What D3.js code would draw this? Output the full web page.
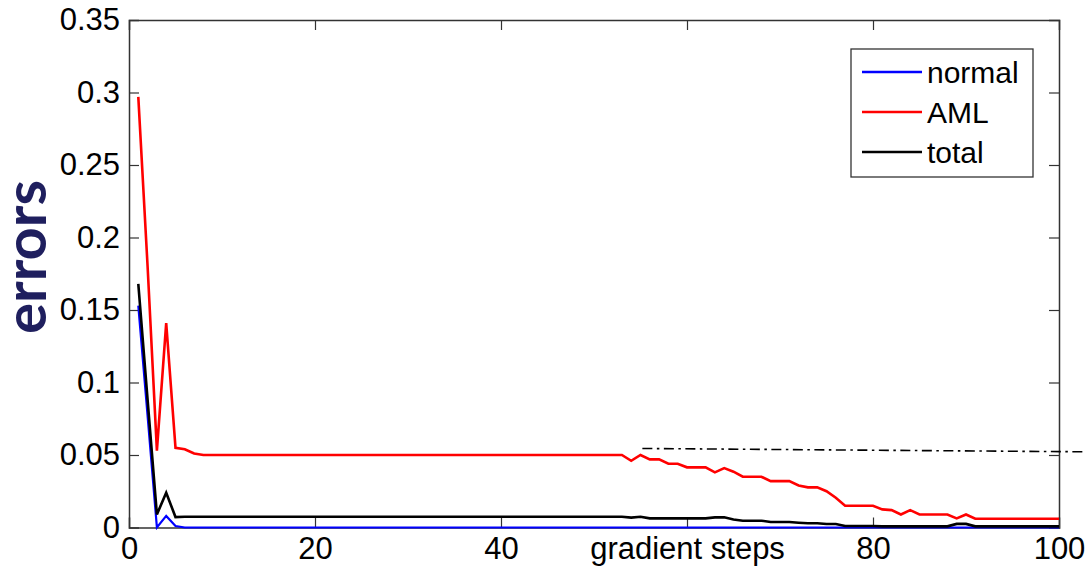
<!DOCTYPE html>
<html>
<head>
<meta charset="utf-8">
<script src="https://cdn.jsdelivr.net/npm/d3@7"></script>
<style>
  body { margin: 0; background: #fff; }
  svg { display: block; }
  .tick text { font-family: "Liberation Sans", Arial, sans-serif; font-size: 31px; fill: #000; }
</style>
</head>
<body>
<div id="chart"></div>
<script>
// x positions are the gradient step numbers 1..100
const steps = [
  1, 2, 3, 4, 5, 6, 7, 8, 9, 10, 11, 12, 13, 14, 15, 16, 17, 18, 19, 20,
  21, 22, 23, 24, 25, 26, 27, 28, 29, 30, 31, 32, 33, 34, 35, 36, 37, 38, 39, 40,
  41, 42, 43, 44, 45, 46, 47, 48, 49, 50, 51, 52, 53, 54, 55, 56, 57, 58, 59, 60,
  61, 62, 63, 64, 65, 66, 67, 68, 69, 70, 71, 72, 73, 74, 75, 76, 77, 78, 79, 80,
  81, 82, 83, 84, 85, 86, 87, 88, 89, 90, 91, 92, 93, 94, 95, 96, 97, 98, 99, 100
];

const normal_err = [
  0.153, 0.077, 0, 0.008, 0.001, 0, 0, 0, 0, 0,
  0, 0, 0, 0, 0, 0, 0, 0, 0, 0,
  0, 0, 0, 0, 0, 0, 0, 0, 0, 0,
  0, 0, 0, 0, 0, 0, 0, 0, 0, 0,
  0, 0, 0, 0, 0, 0, 0, 0, 0, 0,
  0, 0, 0, 0, 0, 0, 0, 0, 0, 0,
  0, 0, 0, 0, 0, 0, 0, 0, 0, 0,
  0, 0, 0, 0, 0, 0, 0, 0, 0, 0,
  0, 0, 0, 0, 0, 0, 0, 0, 0, 0,
  0, 0, 0, 0, 0, 0, 0, 0, 0, 0
];

const aml_err = [
  0.297, 0.18, 0.053, 0.141, 0.055, 0.054, 0.051, 0.05, 0.05, 0.05,
  0.05, 0.05, 0.05, 0.05, 0.05, 0.05, 0.05, 0.05, 0.05, 0.05,
  0.05, 0.05, 0.05, 0.05, 0.05, 0.05, 0.05, 0.05, 0.05, 0.05,
  0.05, 0.05, 0.05, 0.05, 0.05, 0.05, 0.05, 0.05, 0.05, 0.05,
  0.05, 0.05, 0.05, 0.05, 0.05, 0.05, 0.05, 0.05, 0.05, 0.05,
  0.05, 0.05, 0.05, 0.046, 0.05, 0.047, 0.047, 0.044, 0.044, 0.0415,
  0.0415, 0.0415, 0.038, 0.041, 0.0385, 0.035, 0.035, 0.035, 0.032, 0.032,
  0.032, 0.029, 0.0277, 0.0277, 0.025, 0.0205, 0.015, 0.015, 0.015, 0.015,
  0.0125, 0.012, 0.009, 0.012, 0.009, 0.009, 0.009, 0.009, 0.0063, 0.009,
  0.006, 0.006, 0.006, 0.006, 0.006, 0.006, 0.006, 0.006, 0.006, 0.006
];

const total_err = [
  0.168, 0.088, 0.009, 0.024, 0.0072, 0.0074, 0.0074, 0.0074, 0.0074, 0.0074,
  0.0074, 0.0074, 0.0074, 0.0074, 0.0074, 0.0074, 0.0074, 0.0074, 0.0074, 0.0074,
  0.0074, 0.0074, 0.0074, 0.0074, 0.0074, 0.0074, 0.0074, 0.0074, 0.0074, 0.0074,
  0.0074, 0.0074, 0.0074, 0.0074, 0.0074, 0.0074, 0.0074, 0.0074, 0.0074, 0.0074,
  0.0074, 0.0074, 0.0074, 0.0074, 0.0074, 0.0074, 0.0074, 0.0074, 0.0074, 0.0074,
  0.0074, 0.0074, 0.0074, 0.0068, 0.0074, 0.0063, 0.0063, 0.0063, 0.0063, 0.0063,
  0.0063, 0.0063, 0.007, 0.007, 0.0055, 0.0047, 0.0047, 0.0047, 0.0038, 0.0038,
  0.0038, 0.0033, 0.0029, 0.0029, 0.0024, 0.0024, 0.001, 0.001, 0.001, 0.001,
  0.0008, 0.0008, 0.0008, 0.0008, 0.0008, 0.0008, 0.0008, 0.0008, 0.0025, 0.0025,
  0.0008, 0.0008, 0.0008, 0.0008, 0.0008, 0.0008, 0.0008, 0.0008, 0.0008, 0.0008
];

const series_names = ["normal", "AML", "total"];
const series_colors = ["#0000ff", "#ff0000", "#000000"];

const x_ticks = [0, 20, 40, 60, 80, 100];
const x_tick_labels = ["0", "20", "40", "gradient steps", "80", "100"];
const y_ticks = [0, 0.05, 0.1, 0.15, 0.2, 0.25, 0.3, 0.35];
const y_tick_labels = ["0", "0.05", "0.1", "0.15", "0.2", "0.25", "0.3", "0.35"];

// dash-dot reference line (start/end step, start/end error)
const ref_line = [{step: 55.2, value: 0.0545}, {step: 102.9, value: 0.0522}];

const y_label = "errors";

draw_chart('chart');

function draw_chart(target) {
    const W = 1085, H = 570;
    const margin = {top: 20, right: 26, bottom: 42.5, left: 129};
    const width = W - margin.left - margin.right,
          height = H - margin.top - margin.bottom;

    const svg = d3.select('#' + target).append("svg")
        .attr("width", W)
        .attr("height", H);
    const g = svg.append("g").attr("transform", `translate(${margin.left},${margin.top})`);

    const x = d3.scaleLinear().domain([0, 100]).range([0, width]);
    const y = d3.scaleLinear().domain([0, 0.35]).range([height, 0]);

    const axisColor = "#333";
    const tickLen = 10;

    // bottom axis, ticks inward
    const xb = g.append("g")
        .attr("transform", `translate(0,${height})`)
        .call(d3.axisBottom(x).tickValues(x_ticks).tickSize(-tickLen).tickPadding(22)
            .tickFormat((d, i) => x_tick_labels[i]));
    // top axis (ticks only)
    const xt = g.append("g")
        .call(d3.axisTop(x).tickValues(x_ticks).tickSize(-tickLen).tickFormat(""));
    // left axis
    const yl = g.append("g")
        .call(d3.axisLeft(y).tickValues(y_ticks).tickSize(-tickLen).tickPadding(9)
            .tickFormat((d, i) => y_tick_labels[i]));
    // right axis (ticks only)
    const yr = g.append("g")
        .attr("transform", `translate(${width},0)`)
        .call(d3.axisRight(y).tickValues(y_ticks).tickSize(-tickLen).tickFormat(""));

    [xb, xt, yl, yr].forEach(a => {
        a.select(".domain").attr("stroke", axisColor).attr("stroke-width", 1.5);
        a.selectAll(".tick line").attr("stroke", axisColor).attr("stroke-width", 1.2);
    });
    xb.selectAll(".tick text").attr("dy", "0.32em");
    // drop the ticks that sit on the box corners
    [xb, xt].forEach(a => a.selectAll(".tick line").filter(d => d === 0 || d === 100).remove());
    [yl, yr].forEach(a => a.selectAll(".tick line").filter(d => d === 0 || d === 0.35).remove());

    // series lines
    const all = [normal_err, aml_err, total_err];
    const line = d3.line()
        .x(d => x(d.step))
        .y(d => y(d.value));

    all.forEach((vals, k) => {
        const pts = steps.map((s, i) => ({step: s, value: vals[i]}));
        g.append("path")
            .datum(pts)
            .attr("fill", "none")
            .attr("stroke", series_colors[k])
            .attr("stroke-width", k === 0 ? 2.2 : 2.6)
            .attr("stroke-linejoin", "miter")
            .attr("d", line);
    });

    // dash-dot line running off the right edge
    g.append("path")
        .datum(ref_line)
        .attr("fill", "none")
        .attr("stroke", "#000")
        .attr("stroke-width", 1.6)
        .attr("stroke-dasharray", "10,4.5,2.5,4.5")
        .attr("d", line);

    // legend
    const lg = g.append("g").attr("transform", `translate(${851 - margin.left},${49 - margin.top})`);
    lg.append("rect")
        .attr("width", 182).attr("height", 128)
        .attr("fill", "#fff").attr("stroke", "#333").attr("stroke-width", 1.3);
    series_names.forEach((name, i) => {
        const yy = 23 + i * 40;
        lg.append("line")
            .attr("x1", 11).attr("x2", 71)
            .attr("y1", yy).attr("y2", yy)
            .attr("stroke", series_colors[i]).attr("stroke-width", 2.6);
        lg.append("text")
            .attr("x", 76).attr("y", yy)
            .attr("dy", "0.35em")
            .style("font-family", "'Liberation Sans', Arial, sans-serif")
            .style("font-size", "30px")
            .text(name);
    });

    // y label
    svg.append("text")
        .attr("transform", "translate(46,257) rotate(-90)")
        .attr("text-anchor", "middle")
        .style("font-family", "Lato, 'Open Sans', sans-serif")
        .style("font-weight", "bold")
        .style("font-size", "58px")
        .attr("fill", "#1f1f5e")
        .text(y_label);
}
</script>
</body>
</html>
